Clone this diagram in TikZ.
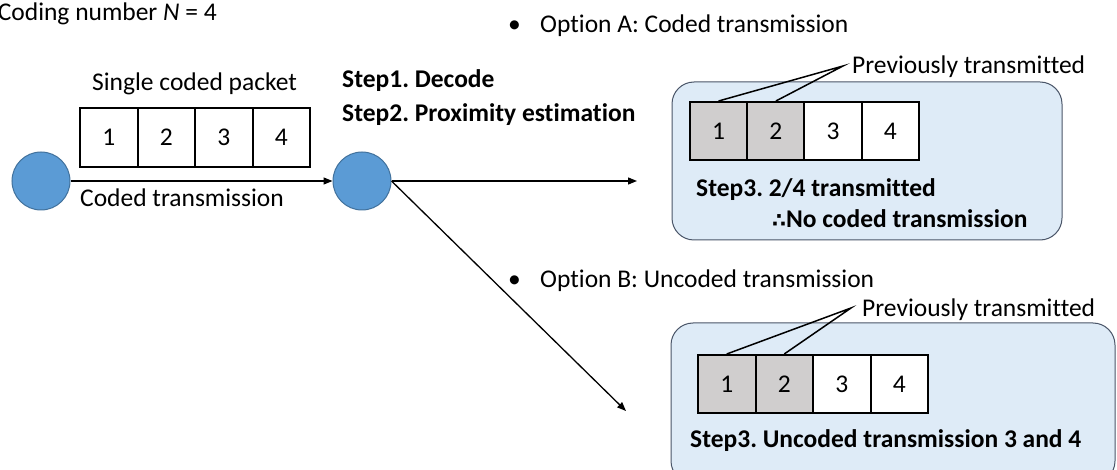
\documentclass[tikz,border=0pt]{standalone}
\usepackage{fontspec}
\setmainfont{Carlito}[Ligatures={NoCommon,NoContextual}]
\newfontfamily\symfont{DejaVu Sans}
\usetikzlibrary{arrows.meta}
\definecolor{nodeblue}{HTML}{5B9BD5}
\definecolor{edgeblue}{HTML}{41719C}
\definecolor{boxblue}{HTML}{DEEBF7}
\definecolor{boxedge}{HTML}{4A5568}
\definecolor{cellgray}{HTML}{D0CECE}
\frenchspacing
\begin{document}
\begin{tikzpicture}[x=1pt,y=-1pt,
  font=\fontsize{25.5}{30}\selectfont,
  nodecirc/.style={circle, fill=nodeblue, draw=edgeblue, line width=1pt, minimum size=58pt, inner sep=0pt},
  cell/.style={draw, line width=2pt, minimum width=57.5pt, minimum height=59pt, inner sep=0pt, fill=white},
  oldcell/.style={cell, fill=cellgray},
  optbox/.style={draw=boxedge, fill=boxblue, rounded corners=22pt, line width=1pt, inner sep=0pt},
  txt/.style={anchor=base west, inner sep=0pt},
  boldtxt/.style={txt, font=\fontsize{25.5}{30}\selectfont\bfseries},
  conn/.style={line width=1.3pt, -{Triangle[length=9pt,width=7pt]}},
  leader/.style={line width=1.5pt}]
\useasboundingbox (0,0) rectangle (1117,470);
\clip (0,0) rectangle (1117,470);

% title
\node[anchor=base east, inner sep=0pt] (title) at (217,21) {Coding number \textit{N} = 4};

% left part
\node[nodecirc] (c1) at (41,181) {};
\node[nodecirc] (c2) at (362,181) {};
\node[txt] (single) at (92,91) {Single coded packet};
\node[cell] (p1) at (108.75,137.5) {1};
\node[cell] (p2) at (166.25,137.5) {2};
\node[cell] (p3) at (223.75,137.5) {3};
\node[cell] (p4) at (281.25,137.5) {4};
\node[txt] (coded) at (80,207) {Coded transmission};
\draw[conn] (c1.east) -- (c2.west);

\node[boldtxt] (s1) at (342,88) {Step1. Decode};
\node[boldtxt] (s2) at (342,122) {Step2. Proximity estimation};

\coordinate (tipA) at (637,181);
\coordinate (tipB) at (626,411);
\draw[conn] (c2.east) -- (tipA);
\draw[conn] (c2.east) -- (tipB);

% option A
\node[txt] (optA) at (508,33) {\makebox[32pt][l]{•}Option A: Coded transmission};
\node[optbox, minimum width=390pt, minimum height=158pt] (boxA) at (867,161) {};
\node[oldcell, minimum width=57.25pt, minimum height=58pt] (a1) at (718.6,131) {1};
\node[oldcell, minimum width=57.25pt, minimum height=58pt] (a2) at (775.9,131) {2};
\node[cell, minimum width=57.25pt, minimum height=58pt] (a3) at (833.1,131) {3};
\node[cell, minimum width=57.25pt, minimum height=58pt] (a4) at (890.4,131) {4};
\node[txt] (prevA) at (852,74) {Previously transmitted};
\coordinate (jA) at (843,66);
\draw[leader] (a1.north) -- (jA) -- (a2.north);
\node[boldtxt] (s3A) at (696,197) {Step3. 2/4 transmitted};
\node[boldtxt] (s3A2) at (772,228) {{\symfont\fontsize{20}{24}\selectfont\bfseries ∴}No coded transmission};

% option B
\node[txt] (optB) at (508,288) {\makebox[32pt][l]{•}Option B: Uncoded transmission};
\node[optbox, minimum width=444pt, minimum height=160pt] (boxB) at (893,403) {};
\node[oldcell, minimum height=58pt] (b1) at (726.75,384) {1};
\node[oldcell, minimum height=58pt] (b2) at (784.25,384) {2};
\node[cell, minimum height=58pt] (b3) at (841.75,384) {3};
\node[cell, minimum height=58pt] (b4) at (899.25,384) {4};
\node[txt] (prevB) at (862,317) {Previously transmitted};
\coordinate (jB) at (851,308);
\draw[leader] (b1.north) -- (jB) -- (b2.north);
\node[boldtxt] (s3B) at (690,447) {Step3. Uncoded transmission 3 and 4};
\end{tikzpicture}
\end{document}
